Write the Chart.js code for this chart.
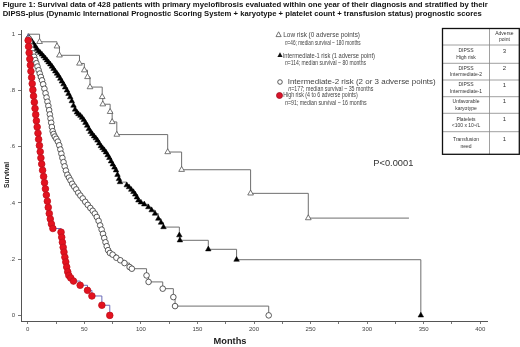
<!DOCTYPE html>
<html>
<head>
<meta charset="utf-8">
<script src="https://cdn.jsdelivr.net/npm/chart.js@4/dist/chart.umd.min.js"></script>
<style>
  body { margin: 0; background: #fff; }
  #wrap { width: 520px; height: 347px; }
</style>
</head>
<body>
<div id="wrap"><canvas id="c" width="520" height="347"></canvas></div>
<script>
// Kaplan-Meier curves (months, survival)
var lowMonths = [0, 10.4, 25.8, 28, 45.7, 50, 52.8, 55, 65.8, 66.3, 72.8, 74.6, 78.7, 123.7, 136, 197, 248, 337];
var lowSurv = [1, 0.973, 0.957, 0.925, 0.896, 0.872, 0.848, 0.812, 0.777, 0.751, 0.724, 0.688, 0.643, 0.581, 0.518, 0.434, 0.346, 0.346];

var int1Months = [0, 0.7, 2.2, 3.7, 5.2, 6.6, 8.0, 9.5, 11.0, 12.5, 14.0, 15.6, 17.0, 18.4, 19.9, 21.4, 22.8, 24.3, 25.8, 27.2,
  28.7, 30.1, 31.6, 33.0, 34.6, 36.0, 37.5, 38.9, 40.4, 41.8, 43.4, 44.8, 46.5, 48.0, 49.5, 51.0, 52.5, 54.0, 55.5, 57.0,
  58.6, 60.1, 61.6, 63.1, 64.6, 66.1, 67.6, 69.1, 70.6, 72.1, 73.6, 75.1, 76.6, 78.0, 79.3, 80.6, 81.5, 87.5, 89.5, 91.5,
  93.4, 95.0, 96.5, 97.8, 100.0, 103.0, 106.6, 109.5, 112.5, 115.4, 117.8, 120.0, 134.0, 134.5, 159.6, 184.6, 347.5];
var int1Surv = [1, 0.99, 0.982, 0.974, 0.965, 0.957, 0.948, 0.94, 0.934, 0.928, 0.921, 0.914, 0.907, 0.9, 0.893, 0.885, 0.877, 0.868, 0.86, 0.852,
  0.842, 0.832, 0.822, 0.811, 0.8, 0.788, 0.776, 0.762, 0.746, 0.732, 0.722, 0.716, 0.71, 0.703, 0.695, 0.685, 0.675, 0.663, 0.653, 0.645,
  0.637, 0.63, 0.622, 0.612, 0.602, 0.595, 0.588, 0.58, 0.57, 0.56, 0.548, 0.537, 0.526, 0.516, 0.5, 0.485, 0.474, 0.463, 0.456, 0.447,
  0.439, 0.43, 0.42, 0.409, 0.402, 0.395, 0.385, 0.374, 0.362, 0.344, 0.33, 0.314, 0.285, 0.267, 0.235, 0.198, 0];

var int2Months = [0, 0.8, 1.7, 2.6, 3.6, 4.6, 5.6, 6.6, 7.6, 8.6, 9.6, 10.6, 11.6, 12.6, 13.6, 14.7, 15.7, 16.6, 17.4, 18.2,
  18.9, 19.5, 20.1, 20.7, 21.3, 22.0, 22.8, 23.9, 25.2, 26.6, 27.8, 28.8, 29.7, 30.6, 31.6, 32.6, 33.7, 35.0, 36.4, 37.8,
  39.3, 41.0, 42.8, 44.6, 46.5, 48.6, 50.8, 53.0, 55.3, 57.4, 59.3, 61.0, 62.6, 64.0, 65.3, 66.5, 67.6, 68.7, 69.8, 71.0,
  72.6, 75.0, 78.3, 81.8, 85.5, 90.0, 92.0, 105.0, 106.8, 119.3, 128.7, 130.2, 213];
var int2Surv = [1, 0.985, 0.972, 0.958, 0.945, 0.932, 0.92, 0.908, 0.897, 0.885, 0.872, 0.86, 0.848, 0.836, 0.822, 0.806, 0.79, 0.775, 0.76, 0.745,
  0.73, 0.715, 0.7, 0.685, 0.67, 0.655, 0.645, 0.636, 0.628, 0.618, 0.605, 0.59, 0.575, 0.56, 0.545, 0.53, 0.515, 0.5, 0.49, 0.48,
  0.468, 0.458, 0.448, 0.436, 0.426, 0.416, 0.404, 0.393, 0.382, 0.372, 0.362, 0.35, 0.336, 0.32, 0.305, 0.29, 0.275, 0.26, 0.246, 0.232,
  0.222, 0.216, 0.205, 0.196, 0.186, 0.172, 0.166, 0.142, 0.119, 0.095, 0.065, 0.033, 0];

var highMonths = [0, 0.3, 0.7, 1.2, 1.8, 2.3, 2.8, 3.4, 3.9, 4.5, 5.1, 5.8, 6.4, 7.0, 7.6, 8.3, 9.0, 9.6, 10.3, 11.0,
  11.6, 12.3, 13.1, 14.0, 14.8, 15.6, 16.4, 17.3, 18.1, 19.0, 19.9, 20.9, 22.2, 29.4, 30.0, 30.6, 31.3, 32.0, 32.8, 33.6,
  34.4, 35.3, 36.3, 38.0, 40.4, 46.3, 52.8, 56.7, 65.5, 72.5];
var highSurv = [1, 0.978, 0.956, 0.934, 0.912, 0.89, 0.868, 0.846, 0.824, 0.802, 0.78, 0.758, 0.736, 0.714, 0.692, 0.67, 0.648, 0.626, 0.604, 0.582,
  0.56, 0.538, 0.516, 0.494, 0.472, 0.45, 0.428, 0.406, 0.384, 0.362, 0.343, 0.325, 0.309, 0.296, 0.278, 0.26, 0.242, 0.225, 0.207, 0.19,
  0.172, 0.155, 0.142, 0.133, 0.122, 0.107, 0.089, 0.069, 0.036, 0];

var xTicks = [0, 25, 50, 75, 100, 125, 150, 175, 200, 225, 250, 275, 300, 325, 350, 375, 400];
var yTicks = [0, 0.2, 0.4, 0.6, 0.8, 1];

var titleLines = [
  "Figure 1: Survival data of 428 patients with primary myelofibrosis evaluated within one year of their diagnosis and stratified by their",
  "DIPSS-plus (Dynamic International Prognostic Scoring System + karyotype + platelet count + transfusion status) prognostic scores"
];
var legendRisk = ["Low risk (0 adverse points)", "Intermediate-1 risk (1 adverse point)",
  "Intermediate-2 risk (2 or 3 adverse points)", "High risk (4 to 6 adverse points)"];
var legendN = ["=46; median survival ~ 180 months", "=114; median survival ~ 80 months",
  "=177; median survival ~ 35 months", "=91; median survival ~ 16 months"];
var tableFactors = [["DIPSS", "High risk"], ["DIPSS", "Intermediate-2"], ["DIPSS", "Intermediate-1"],
  ["Unfavorable", "karyotype"], ["Platelets", "<100 x 10\u2079/L"], ["Transfusion", "need"]];
var tablePoints = ["3", "2", "1", "1", "1", "1"];

var FONT = "'Liberation Sans', Arial, sans-serif";

function toXY(ms, ss) {
  return ms.map(function (m, i) { return { x: m, y: ss[i] }; });
}
function markerRadius(r, hideLast) {
  return function (c) {
    var n = c.dataset.data.length;
    if (c.dataIndex === 0) return 0;
    if (hideLast && c.dataIndex === n - 1) return 0;
    return r;
  };
}

// draw text squeezed/stretched to a given width
function fitText(ctx, parts, x, y, w) {
  var nat = 0;
  parts.forEach(function (p) { ctx.font = p.font; p.w = ctx.measureText(p.t).width; nat += p.w; });
  ctx.save();
  ctx.translate(x, y);
  ctx.scale(w / nat, 1);
  var cx = 0;
  parts.forEach(function (p) { ctx.font = p.font; ctx.fillText(p.t, cx, 0); cx += p.w; });
  ctx.restore();
}
function centerText(ctx, t, font, cx, y) {
  ctx.font = font;
  ctx.textAlign = "center";
  ctx.fillText(t, cx, y);
  ctx.textAlign = "left";
}

var extras = {
  id: "extras",
  afterDraw: function (chart) {
    var ctx = chart.ctx;
    ctx.save();
    ctx.textBaseline = "middle";
    ctx.textAlign = "left";

    // title
    ctx.fillStyle = "#111";
    fitText(ctx, [{ t: titleLines[0], font: "bold 8px " + FONT }], 2.7, 4.5, 485);
    fitText(ctx, [{ t: titleLines[1], font: "bold 8px " + FONT }], 2.7, 13.5, 479);

    // axis titles
    ctx.fillStyle = "#222";
    fitText(ctx, [{ t: "Months", font: "bold 9px " + FONT }], 213.5, 341.5, 33);
    ctx.save();
    ctx.translate(6.5, 188);
    ctx.rotate(-Math.PI / 2);
    fitText(ctx, [{ t: "Survival", font: "bold 8px " + FONT }], 0, 0, 26);
    ctx.restore();

    // legend
    var rows = [
      { mx: 278.6, my: 34.6, tx: 283.3, tw: 76.7, y1: 35, nx: 285, nw: 75.7, y2: 43.3 },
      { mx: 280, my: 55, tx: 282.7, tw: 92.3, y1: 55.7, nx: 285, nw: 81, y2: 63.3 },
      { mx: 280, my: 82, tx: 287.7, tw: 148, y1: 82, nx: 288.3, nw: 85, y2: 89.3 },
      { mx: 279.5, my: 95.5, tx: 283.3, tw: 74.4, y1: 95.5, nx: 285, nw: 81.7, y2: 103 }
    ];
    rows.forEach(function (r, i) {
      ctx.fillStyle = "#444";
      fitText(ctx, [{ t: legendRisk[i], font: "7px " + FONT }], r.tx, r.y1, r.tw);
      fitText(ctx, [{ t: "n", font: "italic 7px " + FONT }, { t: legendN[i], font: "7px " + FONT }], r.nx, r.y2, r.nw);
      ctx.lineWidth = 0.8;
      ctx.beginPath();
      if (i < 2) {
        ctx.moveTo(r.mx, r.my - 2.8);
        ctx.lineTo(r.mx + 2.6, r.my + 2);
        ctx.lineTo(r.mx - 2.6, r.my + 2);
        ctx.closePath();
      } else {
        ctx.arc(r.mx, r.my, i === 2 ? 2.3 : 3, 0, Math.PI * 2);
      }
      if (i === 0) { ctx.fillStyle = "#fff"; ctx.fill(); ctx.strokeStyle = "#555"; ctx.stroke(); }
      if (i === 1) { ctx.fillStyle = "#111"; ctx.fill(); }
      if (i === 2) { ctx.fillStyle = "#fff"; ctx.fill(); ctx.strokeStyle = "#333"; ctx.stroke(); }
      if (i === 3) { ctx.fillStyle = "#d9142a"; ctx.fill(); ctx.strokeStyle = "#a01020"; ctx.stroke(); }
    });

    // p value
    ctx.fillStyle = "#333";
    fitText(ctx, [{ t: "P<0.0001", font: "9px " + FONT }], 373.3, 163.3, 40);

    // table of adverse points
    var tl = 442.5, tm = 489.5, tr = 519.3;
    var ys = [28.5, 45, 63.3, 80, 96.7, 113.3, 131.7, 154.3];
    ctx.strokeStyle = "#888";
    ctx.lineWidth = 0.8;
    ctx.beginPath();
    for (var k = 1; k < ys.length - 1; k++) {
      ctx.moveTo(tl, ys[k]); ctx.lineTo(tr, ys[k]);
    }
    ctx.moveTo(tm, ys[0]); ctx.lineTo(tm, ys[ys.length - 1]);
    ctx.stroke();
    ctx.strokeStyle = "#111";
    ctx.lineWidth = 1.3;
    ctx.strokeRect(tl, ys[0], tr - tl, ys[ys.length - 1] - ys[0]);

    ctx.fillStyle = "#333";
    var tf = "5px " + FONT;
    centerText(ctx, "Adverse", tf, (tm + tr) / 2, 33.5);
    centerText(ctx, "point", tf, (tm + tr) / 2, 40);
    tableFactors.forEach(function (f, i) {
      var top = ys[i + 1], bot = ys[i + 2], mid = (top + bot) / 2;
      centerText(ctx, f[0], tf, (tl + tm) / 2, mid - 3.3);
      centerText(ctx, f[1], tf, (tl + tm) / 2, mid + 3.3);
      centerText(ctx, tablePoints[i], "6px " + FONT, (tm + tr) / 2, mid - 3.3);
    });
    ctx.restore();
  }
};

var lineGrey = "#6e6e6e";

new Chart(document.getElementById("c").getContext("2d"), {
  type: "line",
  data: {
    datasets: [
      {
        data: toXY(highMonths, highSurv),
        stepped: "before",
        borderColor: "#6a6ab8",
        borderWidth: 1,
        pointStyle: "circle",
        pointRadius: markerRadius(3.3, false),
        pointBackgroundColor: "#e3121f",
        pointBorderColor: "#c0101c",
        pointBorderWidth: 0.8,
        fill: false
      },
      {
        data: toXY(int2Months, int2Surv),
        stepped: "before",
        borderColor: lineGrey,
        borderWidth: 1,
        pointStyle: "circle",
        pointRadius: markerRadius(2.8, false),
        pointBackgroundColor: "#fff",
        pointBorderColor: "#333",
        pointBorderWidth: 0.8,
        fill: false
      },
      {
        data: toXY(int1Months, int1Surv),
        stepped: "before",
        borderColor: lineGrey,
        borderWidth: 1,
        pointStyle: "triangle",
        pointRadius: markerRadius(3.2, false),
        pointBackgroundColor: "#000",
        pointBorderColor: "#000",
        pointBorderWidth: 0.5,
        fill: false
      },
      {
        data: toXY(lowMonths, lowSurv),
        stepped: "before",
        borderColor: lineGrey,
        borderWidth: 1,
        pointStyle: "triangle",
        pointRadius: markerRadius(3.3, true),
        pointBackgroundColor: "#fff",
        pointBorderColor: "#555",
        pointBorderWidth: 0.8,
        fill: false
      }
    ]
  },
  options: {
    responsive: false,
    animation: false,
    events: [],
    layout: { padding: { top: 30, right: 33, left: 0, bottom: 0 } },
    plugins: {
      legend: { display: false },
      tooltip: { enabled: false },
      title: { display: false }
    },
    scales: {
      x: {
        type: "linear",
        min: -6,
        max: 406,
        afterFit: function (s) { s.height = 26; },
        afterBuildTicks: function (s) { s.ticks = xTicks.map(function (v) { return { value: v }; }); },
        ticks: {
          autoSkip: false,
          maxRotation: 0,
          padding: 2,
          color: "#444",
          font: { family: FONT, size: 6 },
          callback: function (v) { return v % 50 === 0 ? String(v) : ""; }
        },
        grid: { display: true, drawOnChartArea: false, drawTicks: true, tickLength: 3, color: "#777" },
        border: { display: true, color: "#555", width: 1 }
      },
      y: {
        type: "linear",
        min: -0.02,
        max: 1.015,
        afterFit: function (s) { s.width = 21; },
        afterBuildTicks: function (s) { s.ticks = yTicks.map(function (v) { return { value: v }; }); },
        ticks: {
          autoSkip: false,
          padding: 3,
          color: "#444",
          font: { family: FONT, size: 6 },
          callback: function (v) {
            if (v === 0) return "0";
            if (v === 1) return "1";
            return v.toFixed(1).replace("0.", ".");
          }
        },
        grid: { display: true, drawOnChartArea: false, drawTicks: true, tickLength: 3, color: "#777" },
        border: { display: true, color: "#555", width: 1 }
      }
    }
  },
  plugins: [extras]
});
</script>
</body>
</html>
